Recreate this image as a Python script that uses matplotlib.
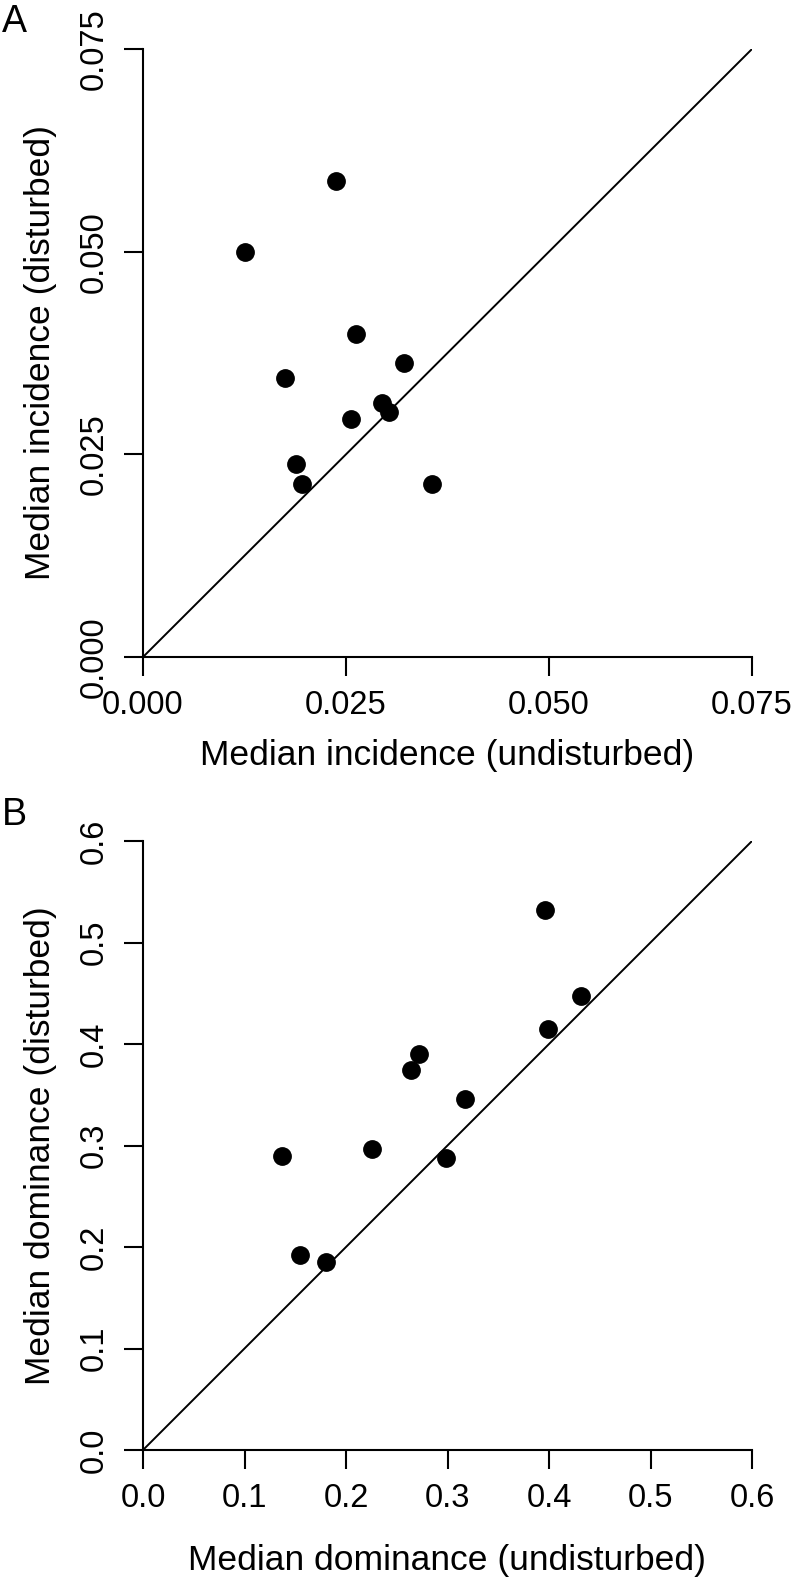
import numpy as np
import matplotlib
matplotlib.use("Agg")
import matplotlib.pyplot as plt

plt.rcParams['font.family'] = ['Liberation Sans', 'DejaVu Sans']

# panel A: median incidence
inc_undist = [0.0238, 0.0126, 0.0262, 0.0321, 0.0175, 0.0294, 0.0303, 0.0256, 0.0188, 0.0196, 0.0356]
inc_dist = [0.0587, 0.0500, 0.0399, 0.0363, 0.0344, 0.0313, 0.0302, 0.0293, 0.0238, 0.0213, 0.0213]
inc_ticks = [0.000, 0.025, 0.050, 0.075]

# panel B: median dominance
dom_undist = [0.396, 0.432, 0.399, 0.272, 0.264, 0.317, 0.226, 0.137, 0.299, 0.155, 0.180]
dom_dist = [0.532, 0.447, 0.415, 0.390, 0.374, 0.346, 0.297, 0.290, 0.288, 0.192, 0.185]
dom_ticks = [0.0, 0.1, 0.2, 0.3, 0.4, 0.5, 0.6]

W, H = 793, 1590
fig = plt.figure(figsize=(W / 100, H / 100), dpi=100)


def r_style(ax, ticks, fmt, xlab, ylab, xpad, ypad):
    lo, hi = ticks[0], ticks[-1]
    ax.plot([lo, hi], [lo, hi], color='black', lw=1.4, solid_capstyle='butt')
    ax.set_xlim(lo, hi)
    ax.set_ylim(lo, hi)
    for s in ['top', 'right']:
        ax.spines[s].set_visible(False)
    for s in ['left', 'bottom']:
        ax.spines[s].set_linewidth(1.5)
    ax.set_xticks(ticks)
    ax.set_yticks(ticks)
    ax.set_xticklabels([fmt.format(t) for t in ticks])
    ax.set_yticklabels([fmt.format(t) for t in ticks], rotation=90, va='center')
    ax.tick_params(direction='out', length=13.7, width=1.5, labelsize=23.5, pad=10)
    ax.set_xlabel(xlab, fontsize=25.5, labelpad=xpad)
    ax.set_ylabel(ylab, fontsize=25.5, labelpad=ypad)


# panel A
axA = fig.add_axes([143 / W, 1 - 657 / H, 609 / W, 608 / H])
axA.plot(inc_undist, inc_dist, 'o', color='black', markersize=12.5, clip_on=False)
r_style(axA, inc_ticks, '{:.3f}', 'Median incidence (undisturbed)',
        'Median incidence (disturbed)', 13, 16)

# panel B
axB = fig.add_axes([143 / W, 1 - 1450 / H, 609 / W, 609 / H])
axB.plot(dom_undist, dom_dist, 'o', color='black', markersize=12.5, clip_on=False)
r_style(axB, dom_ticks, '{:.1f}', 'Median dominance (undisturbed)',
        'Median dominance (disturbed)', 22, 16)

fig.text(2 / W, 1 - 22 / H, 'A', fontsize=27, va='center', ha='left')
fig.text(2 / W, 1 - 815 / H, 'B', fontsize=27, va='center', ha='left')

fig.savefig('out.png', dpi=100)
